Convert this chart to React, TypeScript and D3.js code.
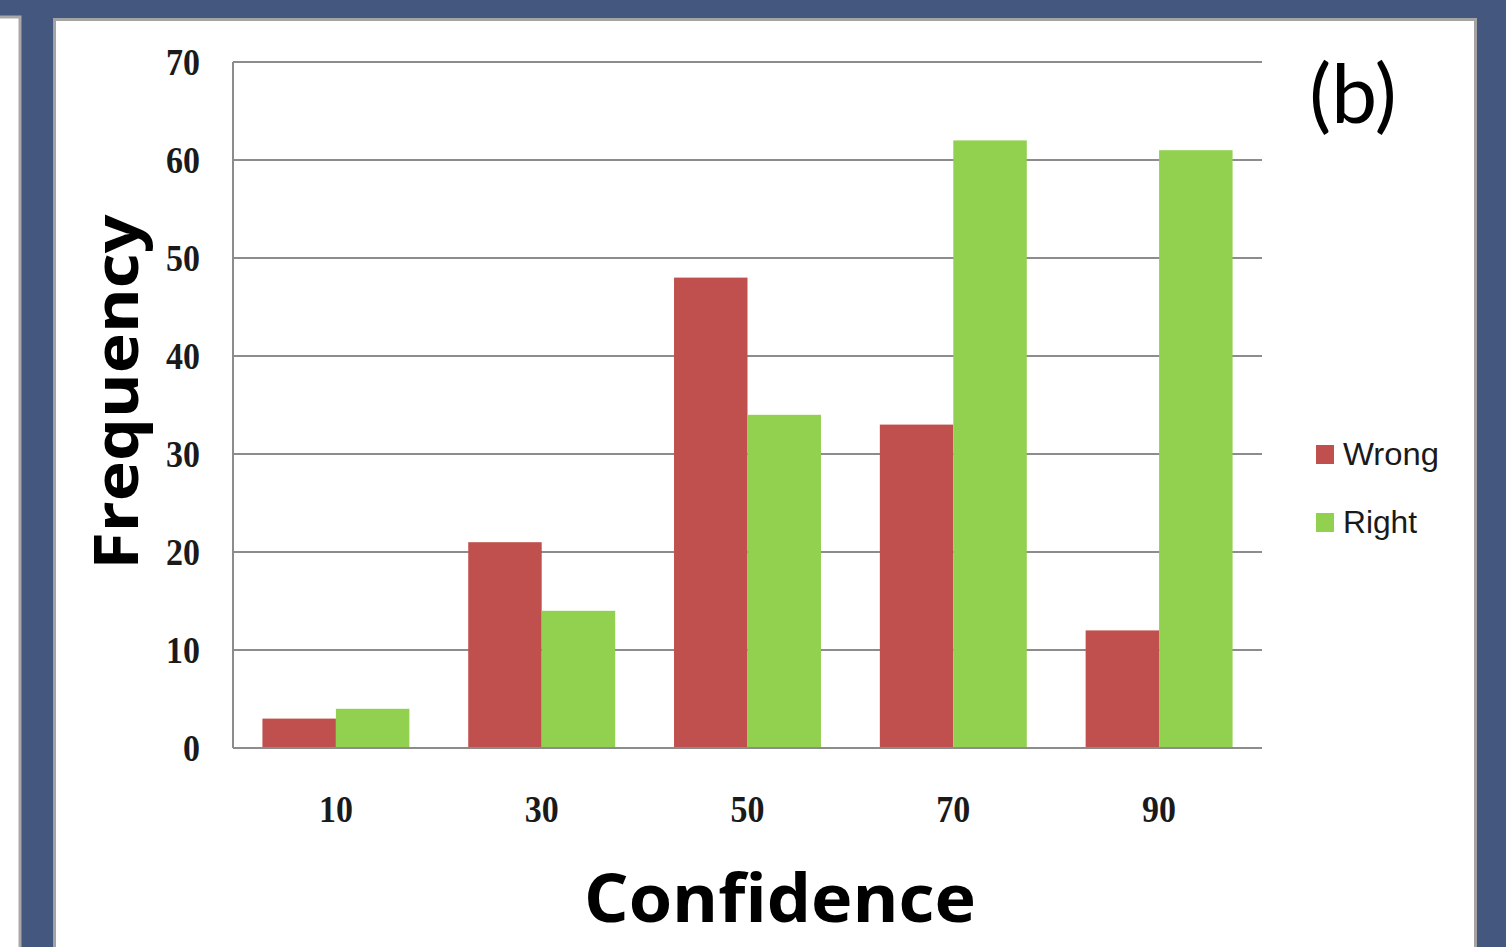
import React from "react";
import * as d3 from "d3";

const categories = ["10", "30", "50", "70", "90"];
const seriesNames = ["Wrong", "Right"];
const wrongValues = [3, 21, 48, 33, 12];
const rightValues = [4, 14, 34, 62, 61];
const yTicks = [0, 10, 20, 30, 40, 50, 60, 70];
const seriesColors = ["#C0504D", "#92D050"];

const W = 1506;
const H = 947;
const plot = { left: 233, right: 1262, top: 62, bottom: 748 };

export default function App() {
  const x = d3
    .scaleBand<string>()
    .domain(categories)
    .range([plot.left, plot.right])
    .paddingInner(0.286)
    .paddingOuter(0.143);
  const xs = d3.scaleBand<string>().domain(seriesNames).range([0, x.bandwidth()]);
  const y = d3.scaleLinear().domain([0, 70]).range([plot.bottom, plot.top]);
  const series = [wrongValues, rightValues];

  return (
    <div style={{ position: "fixed", left: 0, top: 0 }}>
      <svg width={W} height={H} style={{ display: "block" }}>
        <rect x={0} y={0} width={W} height={H} fill="#43577F" />
        {/* left panel */}
        <rect x={-5} y={17} width={25} height={H} fill="#ffffff" stroke="#a8a8a8" strokeWidth={3} />
        {/* main panel */}
        <rect x={54.5} y={19.5} width={1421} height={H} fill="#ffffff" stroke="#a3a3a3" strokeWidth={3} />

        {/* gridlines */}
        {yTicks.map((t) => (
          <line
            key={"g" + t}
            x1={plot.left}
            x2={plot.right}
            y1={y(t)}
            y2={y(t)}
            stroke="#8c8c8c"
            strokeWidth={2}
          />
        ))}
        <line x1={plot.left} x2={plot.left} y1={plot.top} y2={plot.bottom} stroke="#8c8c8c" strokeWidth={2} />

        {/* bars */}
        {series.map((vals, si) =>
          vals.map((v, i) => (
            <rect
              key={si + "-" + i}
              x={(x(categories[i]) as number) + (xs(seriesNames[si]) as number)}
              y={y(v)}
              width={xs.bandwidth()}
              height={y(0) - y(v)}
              fill={seriesColors[si]}
            />
          ))
        )}
        <line x1={plot.left} x2={plot.right} y1={plot.bottom} y2={plot.bottom} stroke="#8c8c8c" strokeWidth={2} />

        {/* y tick labels */}
        {yTicks.map((t) => (
          <text
            key={"yl" + t}
            transform={`translate(200, ${y(t)}) scale(1, 1.12)`}
            dy="0.35em"
            textAnchor="end"
            fontFamily="'Liberation Serif', serif"
            fontWeight="bold"
            fontSize={34}
            fill="#1a1a1a"
          >
            {t}
          </text>
        ))}

        {/* x tick labels */}
        {categories.map((c) => (
          <text
            key={"xl" + c}
            transform={`translate(${(x(c) as number) + x.bandwidth() / 2}, 822) scale(1, 1.12)`}
            textAnchor="middle"
            fontFamily="'Liberation Serif', serif"
            fontWeight="bold"
            fontSize={34}
            fill="#1a1a1a"
          >
            {c}
          </text>
        ))}

        {/* axis titles */}
        <text
          x={780}
          y={922}
          textAnchor="middle"
          fontFamily="'Open Sans', sans-serif"
          fontWeight="bold"
          fontSize={66}
          textLength={392}
          lengthAdjust="spacingAndGlyphs"
          fill="#000"
        >
          Confidence
        </text>
        <text
          transform={`translate(138,392) rotate(-90)`}
          textAnchor="middle"
          fontFamily="'Open Sans', sans-serif"
          fontWeight="bold"
          fontSize={60}
          textLength={355}
          lengthAdjust="spacingAndGlyphs"
          fill="#000"
        >
          Frequency
        </text>

        {/* panel label */}
        <text
          x={1353}
          y={123}
          textAnchor="middle"
          fontFamily="'Lato', sans-serif"
          fontWeight={400}
          fontSize={82}
          fill="#000"
        >
          (b)
        </text>

        {/* legend */}
        {seriesNames.map((s, i) => (
          <g key={"lg" + s} transform={`translate(1316, ${445 + i * 68})`}>
            <rect x={0} y={0} width={18} height={19} fill={seriesColors[i]} />
            <text
              x={27}
              y={20}
              fontFamily="'Liberation Sans', sans-serif"
              fontSize={31}
              textLength={s === "Wrong" ? 96 : 74}
              lengthAdjust="spacingAndGlyphs"
              fill="#1a1a1a"
            >
              {s}
            </text>
          </g>
        ))}
      </svg>
    </div>
  );
}
